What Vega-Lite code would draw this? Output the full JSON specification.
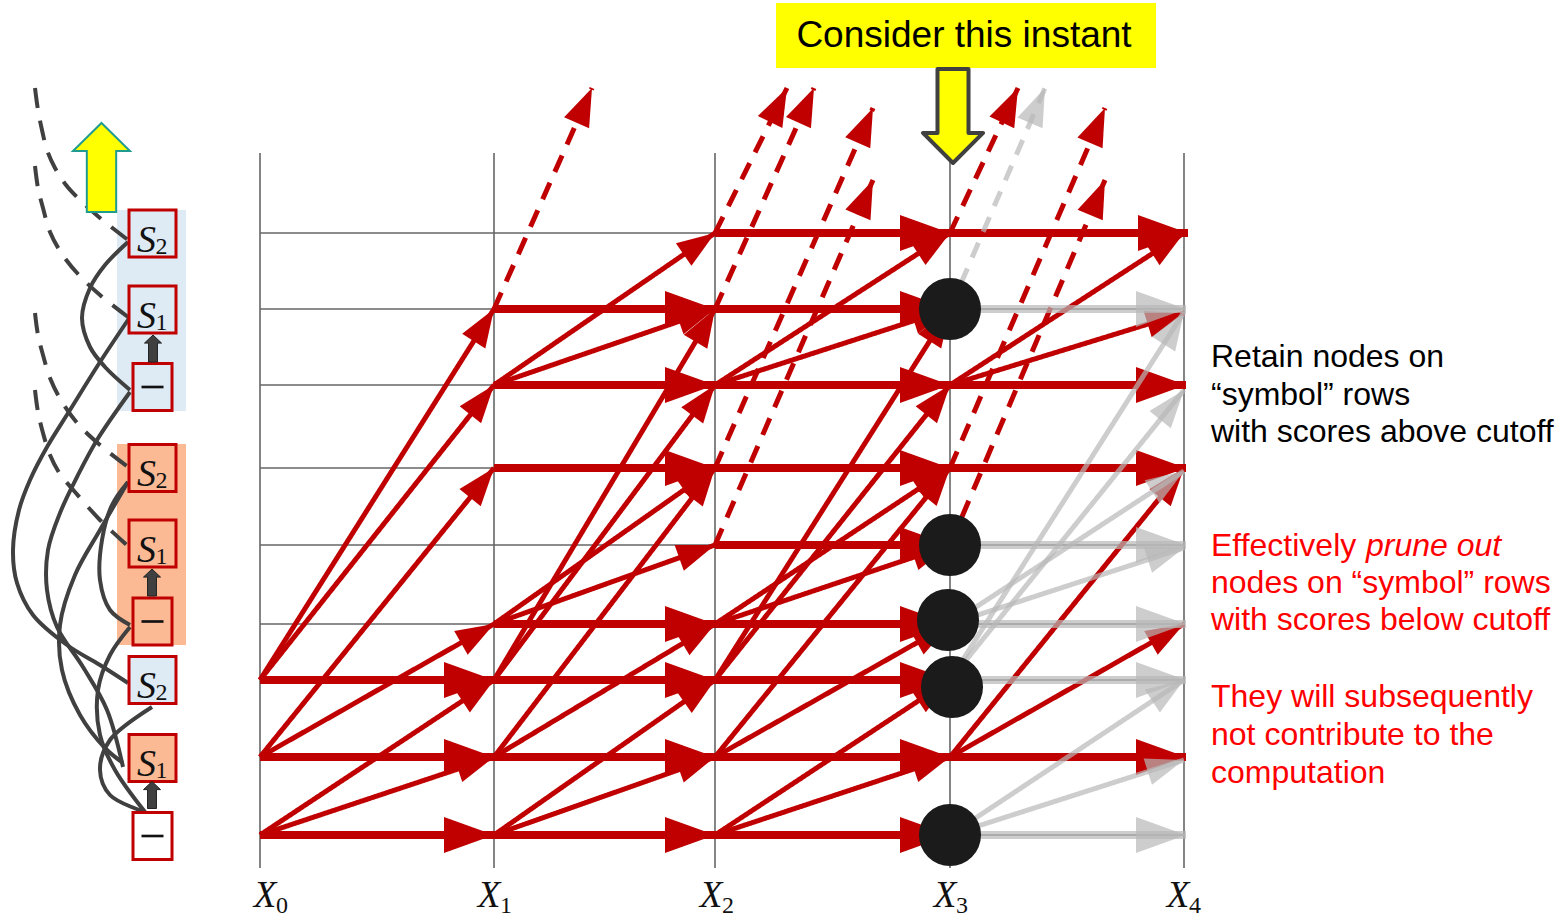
{
  "$schema": "https://vega.github.io/schema/vega-lite/v6.json",
  "width": 1557,
  "height": 919,
  "autosize": {"type": "none"},
  "padding": 0,
  "background": "white",
  "config": {"view": {"stroke": null}},
  "datasets": {
    "edges": [
      {"x":260,"y":835,"x2":494,"y2":835,"kind":"self","status":"kept"},
      {"x":260,"y":835,"x2":494,"y2":757,"kind":"cross","status":"kept"},
      {"x":260,"y":835,"x2":494,"y2":680,"kind":"cross","status":"kept"},
      {"x":260,"y":757,"x2":494,"y2":757,"kind":"self","status":"kept"},
      {"x":260,"y":757,"x2":494,"y2":624,"kind":"cross","status":"kept"},
      {"x":260,"y":757,"x2":494,"y2":468,"kind":"cross","status":"kept"},
      {"x":260,"y":680,"x2":494,"y2":680,"kind":"self","status":"kept"},
      {"x":260,"y":680,"x2":494,"y2":385,"kind":"cross","status":"kept"},
      {"x":260,"y":680,"x2":494,"y2":309,"kind":"cross","status":"kept"},

      {"x":494,"y":835,"x2":715,"y2":835,"kind":"self","status":"kept"},
      {"x":494,"y":835,"x2":715,"y2":757,"kind":"cross","status":"kept"},
      {"x":494,"y":835,"x2":715,"y2":680,"kind":"cross","status":"kept"},
      {"x":494,"y":757,"x2":715,"y2":757,"kind":"self","status":"kept"},
      {"x":494,"y":757,"x2":715,"y2":624,"kind":"cross","status":"kept"},
      {"x":494,"y":757,"x2":715,"y2":468,"kind":"cross","status":"kept"},
      {"x":494,"y":680,"x2":715,"y2":680,"kind":"self","status":"kept"},
      {"x":494,"y":680,"x2":715,"y2":385,"kind":"cross","status":"kept"},
      {"x":494,"y":680,"x2":715,"y2":309,"kind":"cross","status":"kept"},
      {"x":494,"y":624,"x2":715,"y2":624,"kind":"self","status":"kept"},
      {"x":494,"y":624,"x2":715,"y2":545,"kind":"cross","status":"kept"},
      {"x":494,"y":624,"x2":715,"y2":468,"kind":"cross","status":"kept"},
      {"x":494,"y":468,"x2":715,"y2":468,"kind":"self","status":"kept"},
      {"x":494,"y":385,"x2":715,"y2":385,"kind":"self","status":"kept"},
      {"x":494,"y":385,"x2":715,"y2":309,"kind":"cross","status":"kept"},
      {"x":494,"y":385,"x2":715,"y2":233,"kind":"cross","status":"kept"},
      {"x":494,"y":309,"x2":715,"y2":309,"kind":"self","status":"kept"},
      {"x":494,"y":309,"x2":592,"y2":88,"kind":"exit","status":"kept"},

      {"x":715,"y":835,"x2":950,"y2":835,"kind":"self","status":"kept"},
      {"x":715,"y":835,"x2":950,"y2":757,"kind":"cross","status":"kept"},
      {"x":715,"y":835,"x2":950,"y2":680,"kind":"cross","status":"kept"},
      {"x":715,"y":757,"x2":950,"y2":757,"kind":"self","status":"kept"},
      {"x":715,"y":757,"x2":950,"y2":624,"kind":"cross","status":"kept"},
      {"x":715,"y":757,"x2":950,"y2":468,"kind":"cross","status":"kept"},
      {"x":715,"y":680,"x2":950,"y2":680,"kind":"self","status":"kept"},
      {"x":715,"y":680,"x2":950,"y2":385,"kind":"cross","status":"kept"},
      {"x":715,"y":680,"x2":950,"y2":309,"kind":"cross","status":"kept"},
      {"x":715,"y":624,"x2":950,"y2":624,"kind":"self","status":"kept"},
      {"x":715,"y":624,"x2":950,"y2":545,"kind":"cross","status":"kept"},
      {"x":715,"y":624,"x2":950,"y2":468,"kind":"cross","status":"kept"},
      {"x":715,"y":545,"x2":950,"y2":545,"kind":"self","status":"kept"},
      {"x":715,"y":545,"x2":873,"y2":180,"kind":"exit","status":"kept"},
      {"x":715,"y":468,"x2":950,"y2":468,"kind":"self","status":"kept"},
      {"x":715,"y":468,"x2":873,"y2":108,"kind":"exit","status":"kept"},
      {"x":715,"y":385,"x2":950,"y2":385,"kind":"self","status":"kept"},
      {"x":715,"y":385,"x2":950,"y2":309,"kind":"cross","status":"kept"},
      {"x":715,"y":385,"x2":950,"y2":233,"kind":"cross","status":"kept"},
      {"x":715,"y":309,"x2":950,"y2":309,"kind":"self","status":"kept"},
      {"x":715,"y":309,"x2":814,"y2":88,"kind":"exit","status":"kept"},
      {"x":715,"y":233,"x2":950,"y2":233,"kind":"self","status":"kept"},
      {"x":715,"y":233,"x2":787,"y2":88,"kind":"exit","status":"kept"},

      {"x":950,"y":757,"x2":1186,"y2":757,"kind":"self","status":"kept"},
      {"x":950,"y":757,"x2":1184,"y2":624,"kind":"cross","status":"kept"},
      {"x":950,"y":757,"x2":1184,"y2":468,"kind":"cross","status":"kept"},
      {"x":950,"y":468,"x2":1186,"y2":468,"kind":"self","status":"kept"},
      {"x":950,"y":468,"x2":1105,"y2":108,"kind":"exit","status":"kept"},
      {"x":950,"y":385,"x2":1186,"y2":385,"kind":"self","status":"kept"},
      {"x":950,"y":385,"x2":1184,"y2":313,"kind":"cross","status":"kept"},
      {"x":950,"y":385,"x2":1184,"y2":233,"kind":"cross","status":"kept"},
      {"x":950,"y":233,"x2":1188,"y2":233,"kind":"self","status":"kept"},
      {"x":950,"y":233,"x2":1018,"y2":88,"kind":"exit","status":"kept"},
      {"x":950,"y":545,"x2":1105,"y2":180,"kind":"exit","status":"kept"},

      {"x":950,"y":835,"x2":1186,"y2":835,"kind":"self","status":"pruned"},
      {"x":950,"y":835,"x2":1184,"y2":760,"kind":"cross","status":"pruned"},
      {"x":950,"y":835,"x2":1184,"y2":680,"kind":"cross","status":"pruned"},
      {"x":950,"y":680,"x2":1186,"y2":680,"kind":"self","status":"pruned"},
      {"x":950,"y":680,"x2":1184,"y2":390,"kind":"cross","status":"pruned"},
      {"x":950,"y":680,"x2":1184,"y2":312,"kind":"cross","status":"pruned"},
      {"x":950,"y":624,"x2":1186,"y2":624,"kind":"self","status":"pruned"},
      {"x":950,"y":624,"x2":1184,"y2":548,"kind":"cross","status":"pruned"},
      {"x":950,"y":624,"x2":1184,"y2":471,"kind":"cross","status":"pruned"},
      {"x":950,"y":545,"x2":1186,"y2":545,"kind":"self","status":"pruned"},
      {"x":950,"y":309,"x2":1186,"y2":309,"kind":"self","status":"pruned"},
      {"x":950,"y":309,"x2":1045,"y2":88,"kind":"exit","status":"pruned"}
    ],
    "rows": [{"y":835},{"y":757},{"y":680},{"y":624},{"y":545},{"y":468},{"y":385},{"y":309},{"y":233}],
    "cols": [
      {"x":260,"lx":265,"sub":"0"},
      {"x":494,"lx":489,"sub":"1"},
      {"x":715,"lx":711,"sub":"2"},
      {"x":950,"lx":945,"sub":"3"},
      {"x":1184,"lx":1178,"sub":"4"}
    ],
    "pruned": [{"x":950,"y":309},{"x":950,"y":545},{"x":948,"y":620},{"x":952,"y":687},{"x":950,"y":835}],
    "states": [
      {"x":152.5,"y":233.5,"kind":"S","sub":"2","panel":"blue"},
      {"x":152.5,"y":309.5,"kind":"S","sub":"1","panel":"blue"},
      {"x":152.5,"y":387,"kind":"-","sub":"","panel":"blue"},
      {"x":152.5,"y":468,"kind":"S","sub":"2","panel":"orange"},
      {"x":152.5,"y":543.5,"kind":"S","sub":"1","panel":"orange"},
      {"x":152.5,"y":621.5,"kind":"-","sub":"","panel":"orange"},
      {"x":152.5,"y":680,"kind":"S","sub":"2","panel":"blue"},
      {"x":152.5,"y":758,"kind":"S","sub":"1","panel":"orange"},
      {"x":152.5,"y":836,"kind":"-","sub":"","panel":"white"}
    ],
    "panels": [
      {"x":117,"x2":186,"y":210,"y2":411,"panel":"blue"},
      {"x":117,"x2":186,"y":444,"y2":645,"panel":"orange"}
    ],
    "curves": [
      {"c":"D1","i":0,"x":35,"y":88,"s":"dashed"},{"c":"D1","i":1,"x":38,"y":110,"s":"dashed"},{"c":"D1","i":2,"x":42,"y":130,"s":"dashed"},{"c":"D1","i":3,"x":47,"y":150,"s":"dashed"},{"c":"D1","i":4,"x":55,"y":168,"s":"dashed"},{"c":"D1","i":5,"x":66,"y":185,"s":"dashed"},{"c":"D1","i":6,"x":80,"y":200,"s":"dashed"},{"c":"D1","i":7,"x":100,"y":218,"s":"dashed"},{"c":"D1","i":8,"x":128,"y":240,"s":"dashed"},
      {"c":"D2","i":0,"x":35,"y":166,"s":"dashed"},{"c":"D2","i":1,"x":38,"y":188,"s":"dashed"},{"c":"D2","i":2,"x":43,"y":208,"s":"dashed"},{"c":"D2","i":3,"x":50,"y":232,"s":"dashed"},{"c":"D2","i":4,"x":62,"y":254,"s":"dashed"},{"c":"D2","i":5,"x":78,"y":274,"s":"dashed"},{"c":"D2","i":6,"x":100,"y":295,"s":"dashed"},{"c":"D2","i":7,"x":128,"y":317,"s":"dashed"},
      {"c":"D3","i":0,"x":35,"y":313,"s":"dashed"},{"c":"D3","i":1,"x":38,"y":335,"s":"dashed"},{"c":"D3","i":2,"x":43,"y":355,"s":"dashed"},{"c":"D3","i":3,"x":50,"y":378,"s":"dashed"},{"c":"D3","i":4,"x":62,"y":402,"s":"dashed"},{"c":"D3","i":5,"x":78,"y":424,"s":"dashed"},{"c":"D3","i":6,"x":100,"y":445,"s":"dashed"},{"c":"D3","i":7,"x":128,"y":467,"s":"dashed"},
      {"c":"D4","i":0,"x":35,"y":390,"s":"dashed"},{"c":"D4","i":1,"x":38,"y":412,"s":"dashed"},{"c":"D4","i":2,"x":43,"y":433,"s":"dashed"},{"c":"D4","i":3,"x":50,"y":455,"s":"dashed"},{"c":"D4","i":4,"x":60,"y":474,"s":"dashed"},{"c":"D4","i":5,"x":75,"y":492,"s":"dashed"},{"c":"D4","i":6,"x":100,"y":520,"s":"dashed"},{"c":"D4","i":7,"x":128,"y":546,"s":"dashed"},
      {"c":"C1","i":0,"x":128,"y":242,"s":"solid"},{"c":"C1","i":1,"x":105,"y":265,"s":"solid"},{"c":"C1","i":2,"x":90,"y":288,"s":"solid"},{"c":"C1","i":3,"x":82,"y":318,"s":"solid"},{"c":"C1","i":4,"x":90,"y":347,"s":"solid"},{"c":"C1","i":5,"x":105,"y":367,"s":"solid"},{"c":"C1","i":6,"x":130,"y":390,"s":"solid"},
      {"c":"C2","i":0,"x":130,"y":317,"s":"solid"},{"c":"C2","i":1,"x":100,"y":362,"s":"solid"},{"c":"C2","i":2,"x":70,"y":410,"s":"solid"},{"c":"C2","i":3,"x":47,"y":447,"s":"solid"},{"c":"C2","i":4,"x":30,"y":480,"s":"solid"},{"c":"C2","i":5,"x":19,"y":510,"s":"solid"},{"c":"C2","i":6,"x":13,"y":550,"s":"solid"},{"c":"C2","i":7,"x":17,"y":583,"s":"solid"},{"c":"C2","i":8,"x":33,"y":615,"s":"solid"},{"c":"C2","i":9,"x":67,"y":645,"s":"solid"},{"c":"C2","i":10,"x":100,"y":665,"s":"solid"},{"c":"C2","i":11,"x":128,"y":683,"s":"solid"},
      {"c":"C3","i":0,"x":130,"y":392,"s":"solid"},{"c":"C3","i":1,"x":97,"y":440,"s":"solid"},{"c":"C3","i":2,"x":77,"y":477,"s":"solid"},{"c":"C3","i":3,"x":60,"y":513,"s":"solid"},{"c":"C3","i":4,"x":48,"y":550,"s":"solid"},{"c":"C3","i":5,"x":47,"y":590,"s":"solid"},{"c":"C3","i":6,"x":57,"y":627,"s":"solid"},{"c":"C3","i":7,"x":83,"y":667,"s":"solid"},{"c":"C3","i":8,"x":107,"y":710,"s":"solid"},{"c":"C3","i":9,"x":123,"y":767,"s":"solid"},
      {"c":"C4","i":0,"x":128,"y":482,"s":"solid"},{"c":"C4","i":1,"x":112,"y":505,"s":"solid"},{"c":"C4","i":2,"x":102,"y":540,"s":"solid"},{"c":"C4","i":3,"x":100,"y":580,"s":"solid"},{"c":"C4","i":4,"x":110,"y":610,"s":"solid"},{"c":"C4","i":5,"x":130,"y":625,"s":"solid"},
      {"c":"C5","i":0,"x":128,"y":482,"s":"solid"},{"c":"C5","i":1,"x":100,"y":530,"s":"solid"},{"c":"C5","i":2,"x":75,"y":575,"s":"solid"},{"c":"C5","i":3,"x":60,"y":625,"s":"solid"},{"c":"C5","i":4,"x":62,"y":670,"s":"solid"},{"c":"C5","i":5,"x":80,"y":715,"s":"solid"},{"c":"C5","i":6,"x":105,"y":748,"s":"solid"},{"c":"C5","i":7,"x":123,"y":763,"s":"solid"},
      {"c":"C6","i":0,"x":130,"y":627,"s":"solid"},{"c":"C6","i":1,"x":110,"y":655,"s":"solid"},{"c":"C6","i":2,"x":98,"y":690,"s":"solid"},{"c":"C6","i":3,"x":100,"y":735,"s":"solid"},{"c":"C6","i":4,"x":115,"y":770,"s":"solid"},{"c":"C6","i":5,"x":145,"y":812,"s":"solid"},
      {"c":"C7","i":0,"x":152,"y":707,"s":"solid"},{"c":"C7","i":1,"x":110,"y":740,"s":"solid"},{"c":"C7","i":2,"x":100,"y":770,"s":"solid"},{"c":"C7","i":3,"x":110,"y":795,"s":"solid"},{"c":"C7","i":4,"x":145,"y":812,"s":"solid"}
    ],
    "notes": [
      {"x":1211,"y":367,"t":"Retain nodes on","g":"keep"},
      {"x":1211,"y":405,"t":"“symbol” rows","g":"keep"},
      {"x":1211,"y":442,"t":"with scores above cutoff","g":"keep"},
      {"x":1211,"y":556,"t":"Effectively","g":"prune"},
      {"x":1211,"y":593,"t":"nodes on “symbol” rows","g":"prune"},
      {"x":1211,"y":630,"t":"with scores below cutoff","g":"prune"},
      {"x":1211,"y":707,"t":"They will subsequently","g":"prune"},
      {"x":1211,"y":745,"t":"not contribute to the","g":"prune"},
      {"x":1211,"y":783,"t":"computation","g":"prune"},
      {"x":1366,"y":556,"t":"prune out","g":"italic"}
    ]
  },
  "layer": [
    {
      "data": {"name": "panels"},
      "mark": {"type": "rect"},
      "encoding": {
        "x": {"field": "x", "type": "quantitative", "scale": {"domain": [0, 1557], "nice": false, "zero": false}, "axis": null},
        "x2": {"field": "x2"},
        "y": {"field": "y", "type": "quantitative", "scale": {"domain": [0, 919], "reverse": true, "nice": false, "zero": false}, "axis": null},
        "y2": {"field": "y2"},
        "fill": {"field": "panel", "type": "nominal", "scale": {"domain": ["blue", "orange", "white"], "range": ["#deeaf4", "#fbb994", "#ffffff"]}, "legend": null}
      }
    },
    {
      "data": {"values": [{"x": 776, "x2": 1156, "y": 3, "y2": 68}]},
      "mark": {"type": "rect", "color": "#ffff00"},
      "encoding": {
        "x": {"field": "x", "type": "quantitative"},
        "x2": {"field": "x2"},
        "y": {"field": "y", "type": "quantitative"},
        "y2": {"field": "y2"}
      }
    },
    {
      "data": {"name": "cols"},
      "mark": {"type": "rule", "color": "#666666", "strokeWidth": 1.6},
      "encoding": {
        "x": {"field": "x", "type": "quantitative"},
        "y": {"datum": 153, "type": "quantitative"},
        "y2": {"datum": 868}
      }
    },
    {
      "data": {"name": "rows"},
      "mark": {"type": "rule", "color": "#666666", "strokeWidth": 1.6},
      "encoding": {
        "y": {"field": "y", "type": "quantitative"},
        "x": {"datum": 260, "type": "quantitative"},
        "x2": {"datum": 1184}
      }
    },
    {
      "data": {"name": "edges"},
      "transform": [{"filter": "datum.status === 'kept'"}],
      "mark": {"type": "rule", "color": "#c00000", "strokeCap": "butt"},
      "encoding": {
        "x": {"field": "x", "type": "quantitative"},
        "y": {"field": "y", "type": "quantitative"},
        "x2": {"field": "x2"},
        "y2": {"field": "y2"},
        "strokeWidth": {"condition": {"test": "datum.kind === 'self'", "value": 8}, "value": 5},
        "strokeDash": {"condition": {"test": "datum.kind === 'exit'", "value": [18, 12]}, "value": [1, 0]}
      }
    },
    {
      "data": {"name": "edges"},
      "transform": [
        {"filter": "datum.status === 'kept'"},
        {"calculate": "atan2(datum.y2 - datum.y, datum.x2 - datum.x) * 180 / PI", "as": "ang"}
      ],
      "mark": {"type": "point", "shape": "M-2,-0.72L0,0L-2,0.72Z", "filled": true, "opacity": 1, "color": "#c00000", "strokeWidth": 0},
      "encoding": {
        "x": {"field": "x2", "type": "quantitative"},
        "y": {"field": "y2", "type": "quantitative"},
        "angle": {"field": "ang", "type": "quantitative", "scale": null},
        "size": {"condition": {"test": "datum.kind === 'self'", "value": 2500}, "value": 1444}
      }
    },
    {
      "data": {"name": "edges"},
      "transform": [{"filter": "datum.status === 'pruned'"}],
      "mark": {"type": "rule", "color": "#b8b8b8", "opacity": 0.7, "strokeCap": "butt"},
      "encoding": {
        "x": {"field": "x", "type": "quantitative"},
        "y": {"field": "y", "type": "quantitative"},
        "x2": {"field": "x2"},
        "y2": {"field": "y2"},
        "strokeWidth": {"condition": {"test": "datum.kind === 'self'", "value": 8}, "value": 5},
        "strokeDash": {"condition": {"test": "datum.kind === 'exit'", "value": [16, 12]}, "value": [1, 0]}
      }
    },
    {
      "data": {"name": "edges"},
      "transform": [
        {"filter": "datum.status === 'pruned'"},
        {"calculate": "atan2(datum.y2 - datum.y, datum.x2 - datum.x) * 180 / PI", "as": "ang"}
      ],
      "mark": {"type": "point", "shape": "M-2,-0.72L0,0L-2,0.72Z", "filled": true, "opacity": 0.7, "color": "#b8b8b8", "strokeWidth": 0},
      "encoding": {
        "x": {"field": "x2", "type": "quantitative"},
        "y": {"field": "y2", "type": "quantitative"},
        "angle": {"field": "ang", "type": "quantitative", "scale": null},
        "size": {"condition": {"test": "datum.kind === 'self'", "value": 2500}, "value": 1444}
      }
    },
    {
      "data": {"name": "pruned"},
      "mark": {"type": "circle", "size": 3850, "color": "#1b1b1b", "opacity": 1},
      "encoding": {
        "x": {"field": "x", "type": "quantitative"},
        "y": {"field": "y", "type": "quantitative"}
      }
    },
    {
      "data": {"name": "curves"},
      "transform": [{"filter": "datum.s === 'solid'"}],
      "mark": {"type": "line", "interpolate": "catmull-rom", "color": "#404040", "strokeWidth": 4},
      "encoding": {
        "x": {"field": "x", "type": "quantitative"},
        "y": {"field": "y", "type": "quantitative"},
        "detail": {"field": "c", "type": "nominal"},
        "order": {"field": "i", "type": "quantitative"}
      }
    },
    {
      "data": {"name": "curves"},
      "transform": [{"filter": "datum.s === 'dashed'"}],
      "mark": {"type": "line", "interpolate": "catmull-rom", "color": "#404040", "strokeWidth": 4, "strokeDash": [20, 13]},
      "encoding": {
        "x": {"field": "x", "type": "quantitative"},
        "y": {"field": "y", "type": "quantitative"},
        "detail": {"field": "c", "type": "nominal"},
        "order": {"field": "i", "type": "quantitative"}
      }
    },
    {
      "data": {"name": "states"},
      "transform": [{"filter": "datum.kind === 'S'"}],
      "mark": {"type": "point", "shape": "square", "size": 2209, "filled": true, "opacity": 1, "stroke": "#c00000", "strokeWidth": 3},
      "encoding": {
        "x": {"field": "x", "type": "quantitative"},
        "y": {"field": "y", "type": "quantitative"},
        "fill": {"field": "panel", "type": "nominal", "legend": null}
      }
    },
    {
      "data": {"name": "states"},
      "transform": [{"filter": "datum.kind === '-'"}],
      "mark": {"type": "point", "shape": "M-0.83,-1L0.83,-1L0.83,1L-0.83,1Z", "size": 2209, "filled": true, "opacity": 1, "stroke": "#c00000", "strokeWidth": 3},
      "encoding": {
        "x": {"field": "x", "type": "quantitative"},
        "y": {"field": "y", "type": "quantitative"},
        "fill": {"field": "panel", "type": "nominal", "legend": null}
      }
    },
    {
      "data": {"name": "states"},
      "transform": [{"filter": "datum.kind === '-'"}],
      "mark": {"type": "point", "shape": "M-1,-0.12L1,-0.12L1,0.12L-1,0.12Z", "size": 484, "filled": true, "opacity": 1, "color": "#111111", "strokeWidth": 0},
      "encoding": {
        "x": {"field": "x", "type": "quantitative"},
        "y": {"field": "y", "type": "quantitative"}
      }
    },
    {
      "data": {"name": "states"},
      "transform": [{"filter": "datum.kind === 'S'"}],
      "mark": {"type": "text", "text": "S", "font": "Liberation Serif", "fontStyle": "italic", "fontSize": 38, "align": "center", "baseline": "alphabetic", "dx": -6, "dy": 18, "color": "#111111"},
      "encoding": {
        "x": {"field": "x", "type": "quantitative"},
        "y": {"field": "y", "type": "quantitative"}
      }
    },
    {
      "data": {"name": "states"},
      "transform": [{"filter": "datum.kind === 'S'"}],
      "mark": {"type": "text", "font": "Liberation Serif", "fontSize": 24, "align": "center", "baseline": "alphabetic", "dx": 9, "dy": 20, "color": "#111111"},
      "encoding": {
        "x": {"field": "x", "type": "quantitative"},
        "y": {"field": "y", "type": "quantitative"},
        "text": {"field": "sub"}
      }
    },
    {
      "data": {"values": [{"x": 153, "y": 348.5}, {"x": 152, "y": 582.5}, {"x": 152, "y": 795}]},
      "mark": {"type": "point", "shape": "M0,-1L0.63,-0.4L0.33,-0.4L0.33,1L-0.33,1L-0.33,-0.4L-0.63,-0.4Z", "size": 729, "filled": true, "opacity": 1, "color": "#404040", "stroke": "#222222", "strokeWidth": 1},
      "encoding": {
        "x": {"field": "x", "type": "quantitative"},
        "y": {"field": "y", "type": "quantitative"}
      }
    },
    {
      "data": {"values": [{"x": 101.5, "y": 167.5}]},
      "mark": {"type": "point", "shape": "M0,-1L0.64,-0.37L0.33,-0.37L0.33,1L-0.33,1L-0.33,-0.37L-0.64,-0.37Z", "size": 7921, "filled": true, "opacity": 1, "fill": "#ffff00", "stroke": "#1f9c8f", "strokeWidth": 2},
      "encoding": {
        "x": {"field": "x", "type": "quantitative"},
        "y": {"field": "y", "type": "quantitative"}
      }
    },
    {
      "data": {"values": [{"x": 953, "y": 116}]},
      "mark": {"type": "point", "shape": "M-0.33,-1L0.33,-1L0.33,0.36L0.64,0.36L0,1L-0.64,0.36L-0.33,0.36Z", "size": 8836, "filled": true, "opacity": 1, "fill": "#ffff00", "stroke": "#404040", "strokeWidth": 4, "strokeJoin": "round"},
      "encoding": {
        "x": {"field": "x", "type": "quantitative"},
        "y": {"field": "y", "type": "quantitative"}
      }
    },
    {
      "data": {"values": [{"x": 964, "y": 47, "t": "Consider this instant"}]},
      "mark": {"type": "text", "font": "Liberation Sans", "fontSize": 37, "align": "center", "baseline": "alphabetic", "color": "#000000"},
      "encoding": {
        "x": {"field": "x", "type": "quantitative"},
        "y": {"field": "y", "type": "quantitative"},
        "text": {"field": "t"}
      }
    },
    {
      "data": {"name": "cols"},
      "mark": {"type": "text", "text": "X", "font": "Liberation Serif", "fontStyle": "italic", "fontSize": 37, "align": "center", "baseline": "alphabetic", "color": "#111111"},
      "encoding": {
        "x": {"field": "lx", "type": "quantitative"},
        "y": {"datum": 907, "type": "quantitative"}
      }
    },
    {
      "data": {"name": "cols"},
      "mark": {"type": "text", "font": "Liberation Serif", "fontSize": 24, "align": "center", "baseline": "alphabetic", "dx": 17, "color": "#111111"},
      "encoding": {
        "x": {"field": "lx", "type": "quantitative"},
        "y": {"datum": 913, "type": "quantitative"},
        "text": {"field": "sub"}
      }
    },
    {
      "data": {"name": "notes"},
      "transform": [{"filter": "datum.g !== 'italic'"}],
      "mark": {"type": "text", "font": "Liberation Sans", "fontSize": 32, "align": "left", "baseline": "alphabetic"},
      "encoding": {
        "x": {"field": "x", "type": "quantitative"},
        "y": {"field": "y", "type": "quantitative"},
        "text": {"field": "t"},
        "color": {"condition": {"test": "datum.g === 'keep'", "value": "#000000"}, "value": "#ff0000"}
      }
    },
    {
      "data": {"name": "notes"},
      "transform": [{"filter": "datum.g === 'italic'"}],
      "mark": {"type": "text", "font": "Liberation Sans", "fontStyle": "italic", "fontSize": 32, "align": "left", "baseline": "alphabetic", "color": "#ff0000"},
      "encoding": {
        "x": {"field": "x", "type": "quantitative"},
        "y": {"field": "y", "type": "quantitative"},
        "text": {"field": "t"}
      }
    }
  ]
}
